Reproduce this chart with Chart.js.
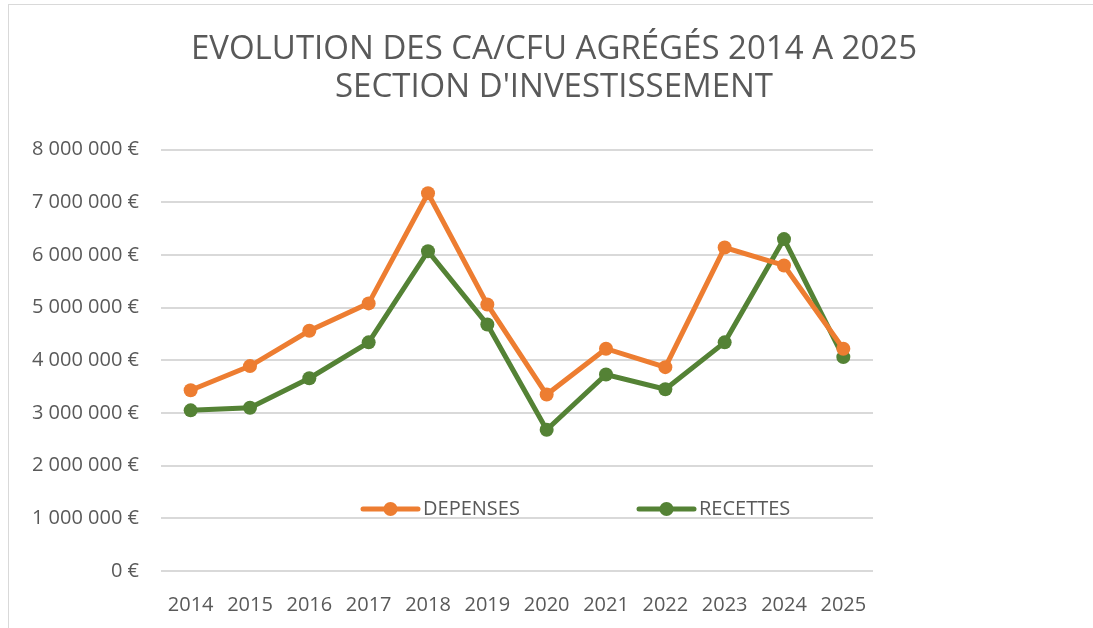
<!DOCTYPE html>
<html>
<head>
<meta charset="utf-8">
<script src="https://cdn.jsdelivr.net/npm/chart.js@4"></script>
<style>
	html, body { margin: 0; padding: 0; background: #fff; overflow: hidden; }
	#box { position: relative; width: 1093px; height: 628px; }
	#evolutionChart { display: block; }
	#frame { position: absolute; left: 8px; top: 4px; width: 1200px; height: 700px; border: 1px solid #d9d9d9; pointer-events: none; }
</style>
</head>
<body>
<div id="box">
	<canvas id="evolutionChart" width="1093" height="628"></canvas>
	<div id="frame"></div>
</div>
<script>
const years = ['2014', '2015', '2016', '2017', '2018', '2019', '2020', '2021', '2022', '2023', '2024', '2025']
const depenses = [3430000, 3890000, 4560000, 5080000, 7170000, 5060000, 3350000, 4220000, 3870000, 6140000, 5800000, 4220000]
const recettes = [3050000, 3100000, 3660000, 4340000, 6070000, 4680000, 2680000, 3730000, 3450000, 4340000, 6300000, 4060000]
const yMin = 0
const yMax = 8000000
const yStep = 1000000

const textColor = '#595959'
const fontFamily = '"Open Sans", "Noto Sans", sans-serif'

const euro = (v) => String(v).replace(/\B(?=(\d{3})+(?!\d))/g, ' ') + ' €'

// Excel puts the legend inside the plot area, so draw it by hand
const insideLegend = {
	id: 'insideLegend',
	afterDraw(chart) {
		const ctx = chart.ctx
		const spots = [363, 639]
		const y = 509
		ctx.save()
		ctx.font = '20px ' + fontFamily
		ctx.textBaseline = 'middle'
		chart.data.datasets.forEach((ds, i) => {
			const x = spots[i]
			ctx.strokeStyle = ds.borderColor
			ctx.lineWidth = ds.borderWidth
			ctx.lineCap = 'round'
			ctx.beginPath()
			ctx.moveTo(x, y)
			ctx.lineTo(x + 55, y)
			ctx.stroke()
			ctx.fillStyle = ds.pointBackgroundColor
			ctx.beginPath()
			ctx.arc(x + 27.5, y, ds.pointRadius, 0, Math.PI * 2)
			ctx.fill()
			ctx.fillStyle = textColor
			ctx.fillText(ds.label, x + 60, y)
		})
		ctx.restore()
	},
}

new Chart(document.getElementById('evolutionChart').getContext('2d'), {
	type: 'line',
	data: {
		labels: years,
		datasets: [
			{
				label: 'DEPENSES',
				data: depenses,
				borderColor: '#ED7D31',
				backgroundColor: '#ED7D31',
				pointBackgroundColor: '#ED7D31',
				pointBorderWidth: 0,
				pointRadius: 7,
				borderWidth: 5,
				tension: 0,
			},
			{
				label: 'RECETTES',
				data: recettes,
				borderColor: '#548235',
				backgroundColor: '#548235',
				pointBackgroundColor: '#548235',
				pointBorderWidth: 0,
				pointRadius: 7,
				borderWidth: 5,
				tension: 0,
			},
		],
	},
	options: {
		responsive: false,
		animation: false,
		layout: {
			padding: { left: 15, right: 0, top: 30, bottom: 0 },
		},
		plugins: {
			legend: { display: false },
			tooltip: { enabled: false },
			title: {
				display: true,
				text: ['EVOLUTION DES CA/CFU AGRÉGÉS 2014 A 2025', "SECTION D'INVESTISSEMENT"],
				color: textColor,
				font: { family: fontFamily, size: 33, weight: 'normal', lineHeight: 1.16 },
				padding: { top: 0, bottom: 43 },
			},
		},
		scales: {
			x: {
				offset: true,
				grid: { display: false, drawTicks: false },
				border: { display: false },
				ticks: {
					color: textColor,
					padding: 22,
					font: { family: fontFamily, size: 20 },
					maxRotation: 0,
				},
				afterFit: (axis) => { axis.height = 57 },
			},
			y: {
				min: yMin,
				max: yMax,
				grid: { color: '#d9d9d9', lineWidth: 2, drawTicks: false },
				border: { display: false },
				ticks: {
					stepSize: yStep,
					color: textColor,
					padding: 22,
					font: { family: fontFamily, size: 20 },
					callback: (v) => euro(v),
				},
				afterFit: (axis) => { axis.width = 146 },
			},
			// empty right-hand space, the chart object in the source runs on past the crop
			spacer: {
				type: 'linear',
				position: 'right',
				grid: { display: false, drawTicks: false },
				border: { display: false },
				ticks: { display: false },
				afterFit: (axis) => { axis.width = 220 },
			},
		},
	},
	plugins: [insideLegend],
})
</script>
</body>
</html>
